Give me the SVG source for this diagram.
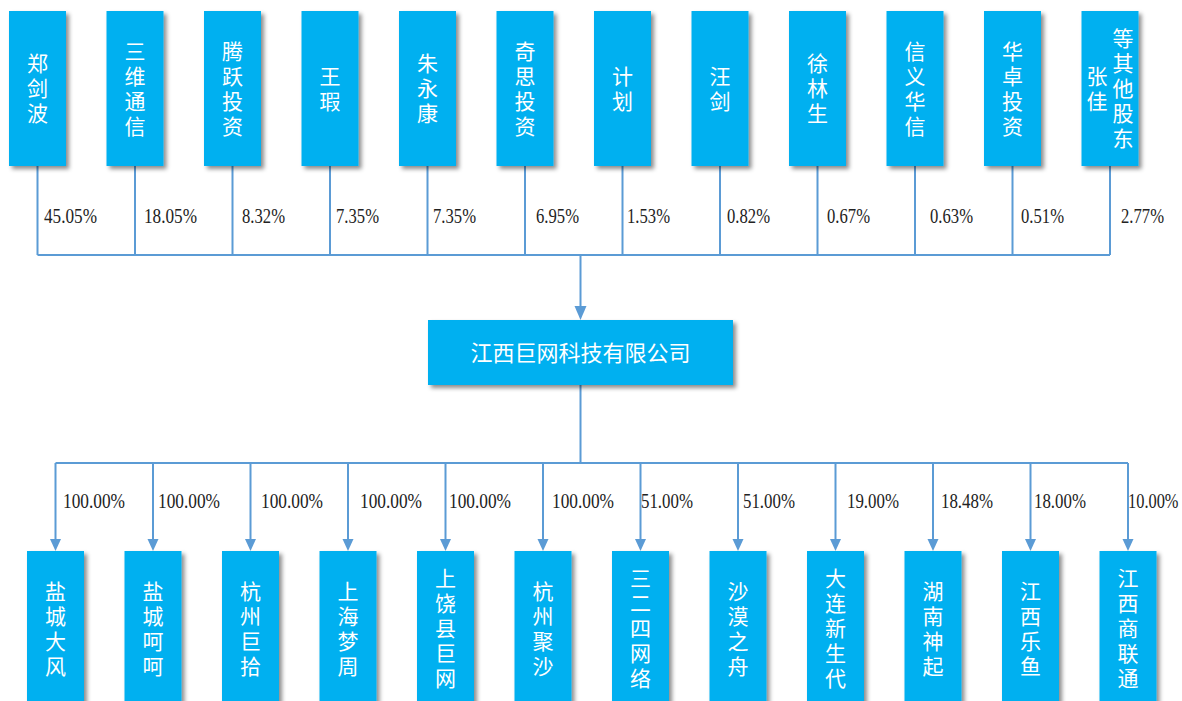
<svg xmlns="http://www.w3.org/2000/svg" width="1182" height="701" viewBox="0 0 1182 701">
<defs>
<filter id="sh" x="-20%" y="-20%" width="150%" height="150%">
<feDropShadow dx="3" dy="3" stdDeviation="2" flood-color="#000" flood-opacity="0.45"/>
</filter>
<style>
.box{fill:#00B0F0;filter:url(#sh);}
.nt{font-family:"Noto Sans CJK SC","Noto Sans",sans-serif;font-size:21px;fill:#FFFFFF;text-anchor:middle;writing-mode:vertical-rl;letter-spacing:4px;}
.ct{font-family:"Noto Sans CJK SC","Noto Sans",sans-serif;font-size:22px;fill:#FFFFFF;text-anchor:middle;}
.lb{font-family:"Liberation Serif",serif;font-size:20px;fill:#222222;}
.ln{stroke:#5B9BD5;stroke-width:2;fill:none;}
.ah{fill:#5B9BD5;}
</style>
</defs>
<rect width="1182" height="701" fill="#FFFFFF"/>

<g id="connectors">
<path class="ln" d="M37.5,166V255M135,166V255M232.5,166V255M330,166V255M427.5,166V255M525,166V255M622.5,166V255M720,166V255M817.5,166V255M915,166V255M1012.5,166V255M1110,166V255M37.5,255H1110"/>
<path class="ln" d="M580.5,255V307"/>
<path class="ah" d="M574.5,306 L586.5,306 L580.5,320 Z"/>
<path class="ln" d="M580.5,385V463M55.5,463H1128"/>
<path class="ln" d="M55.5,463V540M153,463V540M250.5,463V540M348,463V540M445.5,463V540M543,463V540M640.5,463V540M738,463V540M835.5,463V540M933,463V540M1030.5,463V540M1128,463V540"/>
<g class="ah">
<path d="M50,539H61L55.5,551Z"/><path d="M147.5,539H158.5L153,551Z"/><path d="M245,539H256L250.5,551Z"/><path d="M342.5,539H353.5L348,551Z"/><path d="M440,539H451L445.5,551Z"/><path d="M537.5,539H548.5L543,551Z"/><path d="M635,539H646L640.5,551Z"/><path d="M732.5,539H743.5L738,551Z"/><path d="M830,539H841L835.5,551Z"/><path d="M927.5,539H938.5L933,551Z"/><path d="M1025,539H1036L1030.5,551Z"/><path d="M1122.5,539H1133.5L1128,551Z"/>
</g>
<g class="lb">
<text x="44" y="223" textLength="53" lengthAdjust="spacingAndGlyphs">45.05%</text>
<text x="144" y="223" textLength="53" lengthAdjust="spacingAndGlyphs">18.05%</text>
<text x="242" y="223" textLength="43" lengthAdjust="spacingAndGlyphs">8.32%</text>
<text x="336" y="223" textLength="43" lengthAdjust="spacingAndGlyphs">7.35%</text>
<text x="433" y="223" textLength="43" lengthAdjust="spacingAndGlyphs">7.35%</text>
<text x="536" y="223" textLength="43" lengthAdjust="spacingAndGlyphs">6.95%</text>
<text x="627" y="223" textLength="43" lengthAdjust="spacingAndGlyphs">1.53%</text>
<text x="727" y="223" textLength="43" lengthAdjust="spacingAndGlyphs">0.82%</text>
<text x="827" y="223" textLength="43" lengthAdjust="spacingAndGlyphs">0.67%</text>
<text x="930" y="223" textLength="43" lengthAdjust="spacingAndGlyphs">0.63%</text>
<text x="1021" y="223" textLength="43" lengthAdjust="spacingAndGlyphs">0.51%</text>
<text x="1121" y="223" textLength="43" lengthAdjust="spacingAndGlyphs">2.77%</text>
<text x="63" y="508" textLength="62" lengthAdjust="spacingAndGlyphs">100.00%</text>
<text x="158" y="508" textLength="62" lengthAdjust="spacingAndGlyphs">100.00%</text>
<text x="261" y="508" textLength="62" lengthAdjust="spacingAndGlyphs">100.00%</text>
<text x="360" y="508" textLength="62" lengthAdjust="spacingAndGlyphs">100.00%</text>
<text x="449" y="508" textLength="62" lengthAdjust="spacingAndGlyphs">100.00%</text>
<text x="552" y="508" textLength="62" lengthAdjust="spacingAndGlyphs">100.00%</text>
<text x="641" y="508" textLength="52" lengthAdjust="spacingAndGlyphs">51.00%</text>
<text x="743" y="508" textLength="52" lengthAdjust="spacingAndGlyphs">51.00%</text>
<text x="847" y="508" textLength="52" lengthAdjust="spacingAndGlyphs">19.00%</text>
<text x="941" y="508" textLength="52" lengthAdjust="spacingAndGlyphs">18.48%</text>
<text x="1034" y="508" textLength="52" lengthAdjust="spacingAndGlyphs">18.00%</text>
<text transform="translate(1128,508) scale(0.82,1)" x="0" y="0">10.00%</text>
</g>
</g>

<g id="top1"><rect class="box" x="9" y="11" width="57" height="155"/><text class="nt" x="37.5" y="90.5">郑剑波</text></g>
<g id="top2"><rect class="box" x="106.5" y="11" width="57" height="155"/><text class="nt" x="135" y="90.5">三维通信</text></g>
<g id="top3"><rect class="box" x="204" y="11" width="57" height="155"/><text class="nt" x="232.5" y="90.5">腾跃投资</text></g>
<g id="top4"><rect class="box" x="301.5" y="11" width="57" height="155"/><text class="nt" x="330" y="90.5">王瑕</text></g>
<g id="top5"><rect class="box" x="399" y="11" width="57" height="155"/><text class="nt" x="427.5" y="90.5">朱永康</text></g>
<g id="top6"><rect class="box" x="496.5" y="11" width="57" height="155"/><text class="nt" x="525" y="90.5">奇思投资</text></g>
<g id="top7"><rect class="box" x="594" y="11" width="57" height="155"/><text class="nt" x="622.5" y="90.5">计划</text></g>
<g id="top8"><rect class="box" x="691.5" y="11" width="57" height="155"/><text class="nt" x="720" y="90.5">汪剑</text></g>
<g id="top9"><rect class="box" x="789" y="11" width="57" height="155"/><text class="nt" x="817.5" y="90.5">徐林生</text></g>
<g id="top10"><rect class="box" x="886.5" y="11" width="57" height="155"/><text class="nt" x="915" y="90.5">信义华信</text></g>
<g id="top11"><rect class="box" x="984" y="11" width="57" height="155"/><text class="nt" x="1012.5" y="90.5">华卓投资</text></g>
<g id="top12"><rect class="box" x="1081.5" y="11" width="57" height="155"/><text class="nt" x="1123" y="90.5">等其他股东</text><text class="nt" x="1097" y="90.5">张佳</text></g>

<g id="center"><rect class="box" x="428" y="320" width="305" height="65"/><text class="ct" x="580.5" y="360.5">江西巨网科技有限公司</text></g>

<g id="b1"><rect class="box" x="27" y="551" width="57" height="155"/><text class="nt" x="55.5" y="630.5">盐城大风</text></g>
<g id="b2"><rect class="box" x="124.5" y="551" width="57" height="155"/><text class="nt" x="153" y="630.5">盐城呵呵</text></g>
<g id="b3"><rect class="box" x="222" y="551" width="57" height="155"/><text class="nt" x="250.5" y="630.5">杭州巨拾</text></g>
<g id="b4"><rect class="box" x="319.5" y="551" width="57" height="155"/><text class="nt" x="348" y="630.5">上海梦周</text></g>
<g id="b5"><rect class="box" x="417" y="551" width="57" height="155"/><text class="nt" x="445.5" y="630.5">上饶县巨网</text></g>
<g id="b6"><rect class="box" x="514.5" y="551" width="57" height="155"/><text class="nt" x="543" y="630.5">杭州聚沙</text></g>
<g id="b7"><rect class="box" x="612" y="551" width="57" height="155"/><text class="nt" x="640.5" y="630.5">三二四网络</text></g>
<g id="b8"><rect class="box" x="709.5" y="551" width="57" height="155"/><text class="nt" x="738" y="630.5">沙漠之舟</text></g>
<g id="b9"><rect class="box" x="807" y="551" width="57" height="155"/><text class="nt" x="835.5" y="630.5">大连新生代</text></g>
<g id="b10"><rect class="box" x="904.5" y="551" width="57" height="155"/><text class="nt" x="933" y="630.5">湖南神起</text></g>
<g id="b11"><rect class="box" x="1002" y="551" width="57" height="155"/><text class="nt" x="1030.5" y="630.5">江西乐鱼</text></g>
<g id="b12"><rect class="box" x="1099.5" y="551" width="57" height="155"/><text class="nt" x="1128" y="630.5">江西商联通</text></g>
</svg>
